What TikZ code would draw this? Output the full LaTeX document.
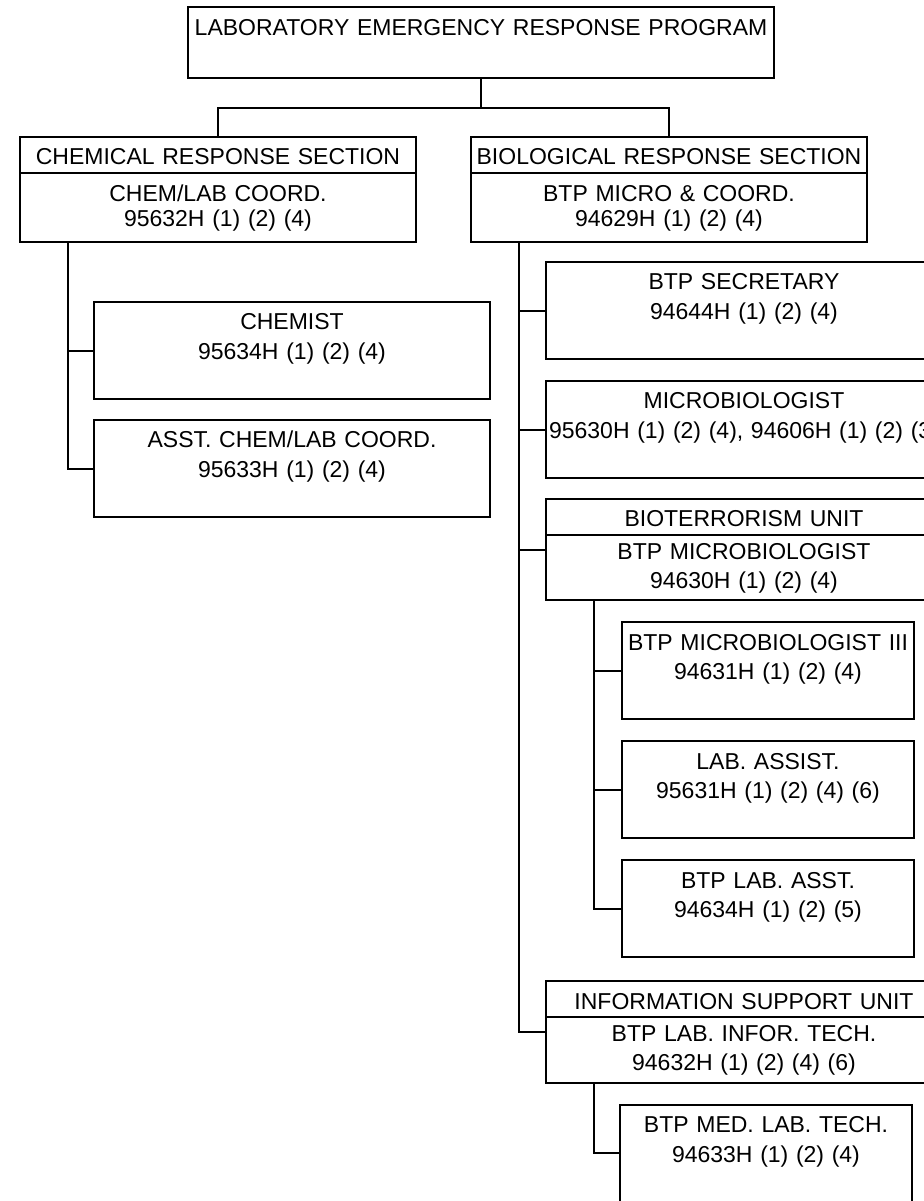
\documentclass[tikz,border=0pt]{standalone}
\usepackage{fontspec}
\setmainfont{Liberation Sans}
\usetikzlibrary{positioning,calc}

\begin{document}
\begin{tikzpicture}[
  line width=1pt,
  node distance=11pt,
  box/.style={draw, inner sep=0pt, outer sep=0pt, align=center, text width=#1,
              font=\fontsize{11.5}{14.75}\selectfont},
  title/.style={box=293pt, text height=14.1pt, text depth=21.4pt},
  head/.style={box=198pt, text height=13.9pt, text depth=4.1pt},
  body/.style={box=198pt, text height=14.1pt, text depth=20.4pt,
               font=\fontsize{11.5}{12.75}\selectfont},
  unitbody/.style={box=198pt, text height=12pt, text depth=20.7pt},
  post/.style={box=#1, text height=13.9pt, text depth=34.6pt},
  post/.default=198pt,
]
\useasboundingbox (0,0) rectangle (462pt,-600.5pt);
\clip (0,0) rectangle (462pt,-600.5pt);

%% ─── Program and its two sections ────────────────────────────────────────────
\node[title, anchor=north west] (title) at (94pt,-3.5pt)
  {LABORATORY EMERGENCY RESPONSE PROGRAM};

\node[head, anchor=north west] (chemhead) at (10pt,-68.5pt)
  {CHEMICAL RESPONSE SECTION};
\node[body, below=0pt of chemhead] (chembody)
  {CHEM/LAB COORD.\\95632H (1) (2) (4)};

\node[head, right=27.5pt of chemhead] (biohead)
  {BIOLOGICAL RESPONSE SECTION};
\node[body, below=0pt of biohead] (biobody)
  {BTP MICRO \& COORD.\\94629H (1) (2) (4)};

\coordinate[below=15pt of title.south] (split);
\draw (title.south) -- (split) -| (chemhead.north);
\draw (split) -| (biohead.north);

%% ─── Chemical section ────────────────────────────────────────────────────────
\node[post, below right=30pt and 37pt of chembody.south west] (chemist)
  {CHEMIST\\95634H (1) (2) (4)};
\node[post, below=10.5pt of chemist] (asst)
  {ASST. CHEM/LAB COORD.\\95633H (1) (2) (4)};

\coordinate (chemroot) at ([xshift=24pt]chembody.south west);
\draw (chemroot) |- (chemist.west);
\draw (chemroot) |- (asst.west);

%% ─── Biological section ──────────────────────────────────────────────────────
\node[post, below right=10pt and 37.5pt of biobody.south west] (secr)
  {BTP SECRETARY\\94644H (1) (2) (4)};
\node[post, below=11pt of secr] (micro)
  {MICROBIOLOGIST\\95630H (1) (2) (4), 94606H (1) (2) (3)};

%% Bioterrorism unit
\node[head, below=10.5pt of micro] (termhead) {BIOTERRORISM UNIT};
\node[unitbody, below=0pt of termhead] (termbody)
  {BTP MICROBIOLOGIST\\94630H (1) (2) (4)};

\node[post=146pt, below right=11pt and 38pt of termbody.south west] (micro3)
  {BTP MICROBIOLOGIST III\\94631H (1) (2) (4)};
\node[post=146pt, below=11pt of micro3] (labassist)
  {LAB. ASSIST.\\95631H (1) (2) (4) (6)};
\node[post=146pt, below=11pt of labassist] (labasst)
  {BTP LAB. ASST.\\94634H (1) (2) (5)};

%% Information support unit
\node[head, anchor=north west] (infohead)
  at ([yshift=-12pt]labasst.south -| termhead.west) {INFORMATION SUPPORT UNIT};
\node[unitbody, below=0pt of infohead] (infobody)
  {BTP LAB. INFOR. TECH.\\94632H (1) (2) (4) (6)};

\node[post=146pt, below right=11pt and 37pt of infobody.south west] (medtech)
  {BTP MED. LAB. TECH.\\94633H (1) (2) (4)};

%% trunks
\coordinate (bioroot)  at ([xshift=24pt]biobody.south west);
\coordinate (termroot) at ([xshift=24pt]termbody.south west);
\coordinate (inforoot) at ([xshift=24pt]infobody.south west);

\foreach \n in {secr, micro}
  \draw (bioroot) |- (\n.west);
\draw (bioroot) |- ($(termhead.north west)!0.5!(termbody.south west)$);
\draw (bioroot) |- ($(infohead.north west)!0.5!(infobody.south west)$);

\foreach \n in {micro3, labassist, labasst}
  \draw (termroot) |- (\n.west);
\draw (inforoot) |- (medtech.west);

\end{tikzpicture}
\end{document}
